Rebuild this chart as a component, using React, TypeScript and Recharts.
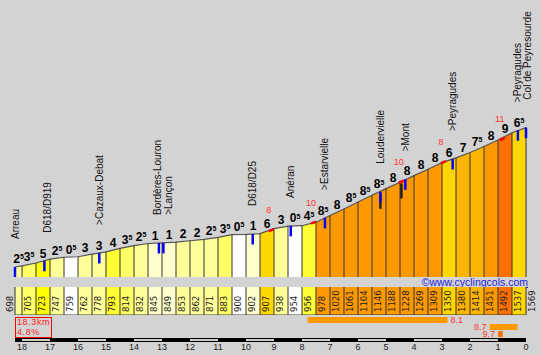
import React from 'react'
import { ComposedChart, Area, Scatter, XAxis, YAxis, ReferenceLine, ReferenceArea } from 'recharts'

// distance from start (km) at each segment boundary
const distances = [
  0, 0.25, 0.75, 1.25, 1.75, 2.25, 2.75, 3.25, 3.75, 4.25, 4.75, 5.25, 5.75, 6.25, 6.75, 7.25, 7.75, 8.25, 8.75,
  9.25, 9.75, 10.25, 10.75, 11.25, 11.75, 12.25, 12.75, 13.25, 13.75, 14.25, 14.75, 15.25, 15.75, 16.25, 16.75,
  17.25, 17.75, 18.25,
]
const elevations = [
  698, 705, 723, 747, 759, 762, 778, 793, 814, 832, 845, 849, 853, 862, 871, 883, 900, 902, 907, 938, 954, 956,
  978, 1020, 1061, 1104, 1146, 1188, 1228, 1269, 1309, 1350, 1380, 1414, 1451, 1492, 1537, 1569,
]
// gradient (%) of each segment, as printed above the profile
const grades = [
  2.5, 3.5, 5, 2.5, 0.5, 3, 3, 4, 3.5, 2.5, 1, 1, 2, 2, 2.5, 3.5, 0.5, 1, 6, 3, 0.5, 4.5, 8.5, 8, 8.5, 8.5, 8.5,
  8, 8, 8, 8, 6, 7, 7.5, 8, 9, 6.5,
]
const places = [
  { name: 'Arreau', d: 0.0, e: 698 },
  { name: 'D618/D919', d: 1.05, e: 737 },
  { name: '>Cazaux-Debat', d: 3.01, e: 786 },
  { name: 'Bordères-Louron', d: 5.14, e: 848 },
  { name: '>Lançon', d: 5.3, e: 849 },
  { name: 'D618/D25', d: 8.49, e: 904 },
  { name: 'Anéran', d: 9.85, e: 955 },
  { name: '>Estarvielle', d: 11.07, e: 1005 },
  { name: 'Loudervielle', d: 13.05, e: 1168 },
  { name: '>Mont', d: 13.94, e: 1246 },
  { name: '>Peyragudes', d: 15.63, e: 1373 },
  { name: '>Peyragudes', d: 17.96, e: 1553 },
  { name: 'Col de Peyresourde', d: 18.25, e: 1569 },
]
const darkMarks = [
  { d: 13.05, e: 1168 },
  { d: 13.8, e: 1233 },
]
// steepest 100m points
const maxMarks = [
  { d: 9.17, e: 929, g: 8 },
  { d: 10.68, e: 975, g: 10 },
  { d: 13.81, e: 1231, g: 10 },
  { d: 15.32, e: 1354, g: 8 },
  { d: 17.42, e: 1498, g: 11 },
]
// steepest 5km / 1km / 100m stretches
const steepest = [
  { label: '8.1', from: 10.45, to: 15.45, g: 8.1 },
  { label: '8.7', from: 16.95, to: 17.95, g: 8.7 },
  { label: '9.7', from: 17.25, to: 17.42, g: 9.7 },
]
const kmTicks = [18, 17, 16, 15, 14, 13, 12, 11, 10, 9, 8, 7, 6, 5, 4, 3, 2, 1, 0]
const totalLength = '18.3km'
const avgGrade = '4.8%'

const FONT = "'Liberation Sans', Arial, sans-serif"
const NARROW = "'Liberation Sans Narrow', 'DejaVu Sans Condensed', 'Liberation Sans', sans-serif"
const DIST_DOMAIN: [number, number] = [0, 18.25]
const ELEV_DOMAIN: [number, number] = [635.5, 2366.75]
const MARGIN = { top: 0, right: 15, bottom: 0, left: 15 }

const gradeColor = (g: number) =>
  g < 1 ? '#ffffff'
  : g < 2 ? '#ffffcc'
  : g < 3.5 ? '#ffff99'
  : g < 4 ? '#ffff66'
  : g < 5 ? '#ffff33'
  : g < 6 ? '#ffff00'
  : g < 7 ? '#ffd700'
  : g < 8 ? '#ffb400'
  : g < 9 ? '#ff9900'
  : '#ff7000'

const labelShift: Record<string, number> = {
  'D618/D919': 3.5,
  'Bordères-Louron': -1,
  '>Lançon': 5.4,
  'Col de Peyresourde': 1,
}

const profileData = distances.map((d, i) => ({ d, e: elevations[i] }))
const segments = grades.map((g, i) => ({
  from: distances[i],
  to: distances[i + 1],
  g,
  e0: elevations[i],
  e1: elevations[i + 1],
}))
const gradeLabels = segments.map(s => ({ d: (s.from + s.to) / 2, e: (s.e0 + s.e1) / 2, g: s.g }))
const boundaryLabels = distances.map((d, i) => ({ d, v: 0, elev: elevations[i], first: i === 0 }))
const total = distances[distances.length - 1]

const GradeLabel = (props: any) => {
  const { cx, cy, payload } = props
  const whole = Math.floor(payload.g)
  const half = payload.g % 1 !== 0
  return (
    <text x={cx} y={cy - 3.5} textAnchor="middle" fontFamily={FONT} fontWeight="bold" fontSize={12} fill="#000">
      {whole}
      {half && <tspan dy={-3.6} fontSize={7}>5</tspan>}
    </text>
  )
}

const PlaceMark = (props: any) => {
  const { cx, cy, payload } = props
  const shift = labelShift[payload.name] ?? 0
  return (
    <g>
      <line x1={cx} y1={cy} x2={cx} y2={cy + 10.5} stroke="#0000ff" strokeWidth={2.5} />
      <text
        transform={`translate(${cx + shift},${cy - 28}) rotate(-90)`}
        fontFamily={FONT}
        fontSize={10}
        fill="#111"
        dominantBaseline="central"
      >
        {payload.name}
      </text>
    </g>
  )
}

const DarkMark = (props: any) => {
  const { cx, cy } = props
  return <line x1={cx} y1={cy + 2} x2={cx} y2={cy + 17} stroke="#222" strokeWidth={2.5} />
}

const MaxMark = (props: any) => {
  const { cx, cy, payload } = props
  return (
    <g>
      <line x1={cx - 3} y1={cy + 1} x2={cx + 2} y2={cy - 1} stroke="#ff0000" strokeWidth={2.5} />
      <text x={cx - 3} y={cy - 17} textAnchor="middle" fontFamily={FONT} fontSize={9} fill="#ff3333">
        {payload.g}
      </text>
    </g>
  )
}

const ElevLabel = (props: any) => {
  const { cx, cy, payload } = props
  const x = cx + (payload.first ? -6 : 5)
  return (
    <text
      transform={`translate(${x},${cy - 3}) rotate(-90)`}
      fontFamily={NARROW}
      fontSize={9.5}
      fill="#222"
      dominantBaseline="central"
    >
      {payload.elev}
    </text>
  )
}

export default function App() {
  return (
    <div style={{ position: 'absolute', left: 0, top: 0, width: 541, height: 355, background: '#d3d3d3', overflow: 'hidden' }}>
      {/* profile */}
      <div style={{ position: 'absolute', left: 0, top: 0 }}>
        <ComposedChart width={541} height={277} data={profileData} margin={MARGIN}>
          <defs>
            <linearGradient id="segFill" x1="0" y1="0" x2="1" y2="0">
              {segments.flatMap((s, i) => [
                <stop key={`a${i}`} offset={s.from / total} stopColor={gradeColor(s.g)} />,
                <stop key={`b${i}`} offset={s.to / total} stopColor={gradeColor(s.g)} />,
              ])}
            </linearGradient>
          </defs>
          <XAxis type="number" dataKey="d" domain={DIST_DOMAIN} hide />
          <YAxis type="number" dataKey="e" domain={ELEV_DOMAIN} hide />
          <Area
            type="linear"
            dataKey="e"
            fill="url(#segFill)"
            fillOpacity={1}
            stroke="#555"
            strokeWidth={1.2}
            isAnimationActive={false}
          />
          {profileData.map((p, i) => (
            <ReferenceLine
              key={i}
              segment={[{ x: p.d, y: ELEV_DOMAIN[0] }, { x: p.d, y: p.e }]}
              stroke="#333"
              strokeWidth={1}
            />
          ))}
          <Scatter data={darkMarks} dataKey="e" shape={<DarkMark />} isAnimationActive={false} />
          <Scatter data={places} dataKey="e" shape={<PlaceMark />} isAnimationActive={false} />
          <Scatter data={maxMarks} dataKey="e" shape={<MaxMark />} isAnimationActive={false} />
          <Scatter data={gradeLabels} dataKey="e" shape={<GradeLabel />} isAnimationActive={false} />
        </ComposedChart>
      </div>

      <div
        style={{
          position: 'absolute', right: 13, top: 276, fontFamily: FONT, fontSize: 10.5, color: '#2222dd',
          textDecoration: 'underline', whiteSpace: 'nowrap', lineHeight: '12px',
        }}
      >
        ©www.cyclingcols.com
      </div>

      {/* elevation table */}
      <div style={{ position: 'absolute', left: 0, top: 287 }}>
        <ComposedChart width={541} height={28} data={boundaryLabels} margin={MARGIN}>
          <XAxis type="number" dataKey="d" domain={DIST_DOMAIN} hide />
          <YAxis type="number" dataKey="v" domain={[0, 1]} hide />
          {segments.map((s, i) => (
            <ReferenceArea key={i} x1={s.from} x2={s.to} fill={gradeColor(s.g)} fillOpacity={1} stroke="none" />
          ))}
          {distances.map((d, i) => (
            <ReferenceLine key={i} x={d} stroke="#333" strokeWidth={1} />
          ))}
          <ReferenceLine y={0} stroke="#333" strokeWidth={1} />
          <Scatter data={boundaryLabels} dataKey="v" shape={<ElevLabel />} isAnimationActive={false} />
        </ComposedChart>
      </div>

      {/* length / average box */}
      <div
        style={{
          position: 'absolute', left: 15, top: 317, width: 37, height: 21, border: '1px solid #ff0000',
          fontFamily: FONT, fontSize: 9, lineHeight: '9.5px', color: '#ff2020', letterSpacing: 0.6,
          paddingLeft: 1, boxSizing: 'border-box', whiteSpace: 'nowrap',
        }}
      >
        <div>{totalLength}</div>
        <div>{avgGrade}</div>
      </div>

      {/* steepest stretches */}
      <div style={{ position: 'absolute', left: 0, top: 316 }}>
        <ComposedChart width={541} height={24} data={steepest} margin={{ ...MARGIN, bottom: 3 }}>
          <XAxis type="number" dataKey="from" domain={DIST_DOMAIN} allowDataOverflow hide />
          <YAxis type="number" domain={[0, 3]} reversed allowDataOverflow hide />
          {steepest.map((s, i) => (
            <ReferenceArea
              key={i}
              x1={s.from}
              x2={s.to}
              y1={i + 0.15}
              y2={i + 1}
              fill={gradeColor(s.g)}
              fillOpacity={1}
              stroke="none"
              label={{
                value: s.label,
                position: i === 0 ? 'right' : 'left',
                offset: 3,
                fill: '#ff3333',
                fontSize: 9,
                fontFamily: FONT,
              }}
            />
          ))}
        </ComposedChart>
      </div>

      {/* km scale */}
      <div style={{ position: 'absolute', left: 0, top: 338 }}>
        <ComposedChart width={541} height={17} data={kmTicks.map(k => ({ k }))} margin={MARGIN}>
          <XAxis
            type="number"
            dataKey="k"
            domain={DIST_DOMAIN}
            reversed
            allowDataOverflow
            ticks={kmTicks}
            interval={0}
            axisLine={false}
            tickLine={false}
            tickSize={0}
            tickMargin={2}
            height={13}
            tick={{ fontSize: 9, fill: '#222', fontFamily: FONT }}
          />
          <YAxis type="number" domain={[0, 1]} allowDataOverflow hide />
          <ReferenceArea x1={DIST_DOMAIN[0]} x2={DIST_DOMAIN[1]} fill="#000" fillOpacity={1} stroke="none" />
          {kmTicks.filter(k => k % 2 === 1).map(k => (
            <ReferenceArea key={k} x1={k} x2={k + 1} y1={0.3} y2={0.7} fill="#fff" fillOpacity={1} stroke="none" />
          ))}
        </ComposedChart>
      </div>
    </div>
  )
}
